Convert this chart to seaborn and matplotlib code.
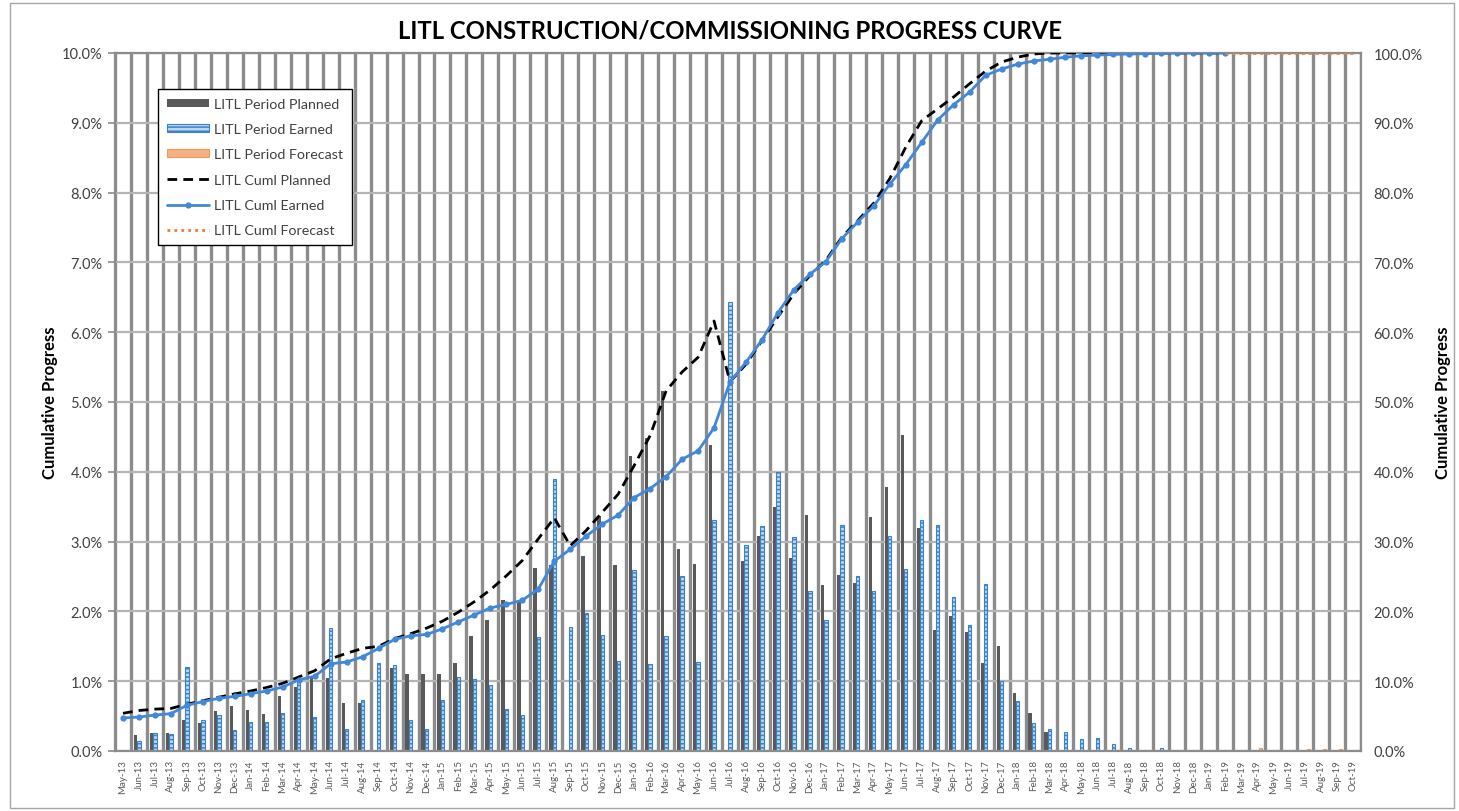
import numpy as np
import pandas as pd
import matplotlib
matplotlib.use("Agg")
import matplotlib.pyplot as plt
import seaborn as sns
from matplotlib.patches import Patch, Rectangle
from matplotlib.lines import Line2D
from matplotlib.ticker import FuncFormatter, MultipleLocator

# ---------------- data ----------------
months = [
    "May-13", "Jun-13", "Jul-13", "Aug-13", "Sep-13", "Oct-13", "Nov-13", "Dec-13",
    "Jan-14", "Feb-14", "Mar-14", "Apr-14", "May-14", "Jun-14", "Jul-14", "Aug-14",
    "Sep-14", "Oct-14", "Nov-14", "Dec-14", "Jan-15", "Feb-15", "Mar-15", "Apr-15",
    "May-15", "Jun-15", "Jul-15", "Aug-15", "Sep-15", "Oct-15", "Nov-15", "Dec-15",
    "Jan-16", "Feb-16", "Mar-16", "Apr-16", "May-16", "Jun-16", "Jul-16", "Aug-16",
    "Sep-16", "Oct-16", "Nov-16", "Dec-16", "Jan-17", "Feb-17", "Mar-17", "Apr-17",
    "May-17", "Jun-17", "Jul-17", "Aug-17", "Sep-17", "Oct-17", "Nov-17", "Dec-17",
    "Jan-18", "Feb-18", "Mar-18", "Apr-18", "May-18", "Jun-18", "Jul-18", "Aug-18",
    "Sep-18", "Oct-18", "Nov-18", "Dec-18", "Jan-19", "Feb-19", "Mar-19", "Apr-19",
    "May-19", "Jun-19", "Jul-19", "Aug-19", "Sep-19", "Oct-19",
]

nan = np.nan
period_planned = [
    nan, 0.23, 0.26, 0.26, 0.45, 0.40, 0.57, 0.65, 0.59, 0.53, 0.79, 0.92, 1.04, 1.04,
    0.69, 0.69, nan, 1.19, 1.10, 1.10, 1.10, 1.26, 1.65, 1.87, 2.17, 2.13, 2.62, 2.66,
    nan, 2.79, 3.37, 2.66, 4.23, 4.49, 5.16, 2.89, 2.68, 4.39, nan, 2.72, 3.08, 3.50,
    2.77, 3.38, 2.38, 2.52, 2.40, 3.35, 3.78, 4.53, 3.19, 1.74, 1.93, 1.70, 1.26, 1.50,
    0.83, 0.55, 0.27, nan, nan, nan, nan, nan, nan, nan, nan, nan, nan, nan, nan, nan,
    nan, nan, nan, nan, nan, nan,
]
period_earned = [
    nan, 0.15, 0.26, 0.24, 1.21, 0.44, 0.52, 0.30, 0.41, 0.41, 0.54, 1.01, 0.48, 1.76,
    0.32, 0.73, 1.26, 1.23, 0.44, 0.32, 0.73, 1.06, 1.03, 0.94, 0.60, 0.51, 1.63, 3.90,
    1.77, 1.97, 1.66, 1.29, 2.59, 1.24, 1.65, 2.51, 1.28, 3.31, 6.43, 2.95, 3.23, 4.00,
    3.07, 2.29, 1.87, 3.24, 2.51, 2.29, 3.08, 2.61, 3.31, 3.24, 2.21, 1.81, 2.39, 1.00,
    0.72, 0.40, 0.31, 0.27, 0.17, 0.18, 0.10, 0.05, 0.01, 0.04, nan, nan, nan, 0.01,
    nan, nan, nan, nan, nan, nan, nan, nan,
]
period_forecast = [nan] * 70 + [0.01, 0.04, 0.02, 0.01, 0.03, 0.03, 0.03, 0.01]

cum_planned = [
    5.4, 5.8, 6.0, 6.1, 6.7, 7.2, 7.7, 8.2, 8.6, 9.1, 9.7, 10.6, 11.5, 13.2, 14.0, 14.7,
    15.0, 16.1, 16.8, 17.6, 18.6, 19.9, 21.4, 23.1, 25.1, 27.3, 30.4, 33.4, 29.4, 31.6,
    34.2, 36.8, 40.9, 45.2, 51.6, 54.3, 56.4, 61.6, 52.9, 55.4, 58.8, 62.2, 65.5, 68.1,
    70.3, 73.6, 76.0, 78.5, 82.0, 86.5, 90.3, 92.0, 93.7, 95.6, 97.4, 98.7, 99.4, 99.85,
    100, 100, 100, 100, 100, 100, 100, 100, 100, 100, 100, 100,
]
cum_earned = [
    4.73, 4.87, 5.15, 5.35, 6.55, 7.07, 7.55, 7.83, 8.21, 8.6, 9.17, 10.2, 10.7, 12.5,
    12.75, 13.5, 14.7, 16.0, 16.5, 16.7, 17.5, 18.5, 19.5, 20.5, 21.0, 21.6, 23.2, 27.2,
    28.9, 30.8, 32.5, 33.8, 36.3, 37.6, 39.3, 41.8, 43.0, 46.3, 52.9, 55.7, 58.9, 62.8,
    66.1, 68.3, 70.1, 73.4, 75.8, 78.1, 81.2, 84.0, 87.2, 90.4, 92.6, 94.4, 96.8, 97.7,
    98.4, 98.85, 99.1, 99.4, 99.6, 99.7, 99.8, 99.85, 99.9, 99.95, 100, 100, 100, 100,
]
cum_forecast_months = months[69:]
cum_forecast = [100, 100, 100, 100, 100, 100, 100, 100, 100]

series_names = ["LITL Period Planned", "LITL Period Earned", "LITL Period Forecast"]
line_names = ["LITL Cuml Planned", "LITL Cuml Earned", "LITL Cuml Forecast"]

# ---------------- style ----------------
sns.set_theme(style="white")
plt.rcParams["font.family"] = ["Lato", "DejaVu Sans"]
plt.rcParams["hatch.linewidth"] = 1.1

c_planned = "#595959"
c_earned_face = "#BDD7EE"
c_earned_edge = "#3A83CC"
c_fore_face = "#F4B183"
c_fore_edge = "#ED9A5C"
c_line_earned = "#4288D8"
c_line_fore = "#ED7D31"
c_vgrid = "#8c8c8c"
c_hgrid = "#b5b5b5"
c_text = "#404040"

fig = plt.figure(figsize=(14.59, 8.12), dpi=100)
ax = fig.add_axes([115 / 1459, 60 / 812, 1246 / 1459, 698 / 812])

# ---------------- bars ----------------
bars_df = pd.DataFrame({
    "month": months * 3,
    "series": [series_names[0]] * len(months) + [series_names[1]] * len(months)
              + [series_names[2]] * len(months),
    "value": period_planned + period_earned + period_forecast,
})
sns.barplot(
    data=bars_df, x="month", y="value", hue="series", order=months,
    hue_order=series_names, palette=[c_planned, c_earned_face, c_fore_face],
    width=0.63, dodge=True, saturation=1, errorbar=None, legend=False, ax=ax,
)
for cont, name in zip(ax.containers, series_names):
    for p in cont:
        if name == series_names[0]:
            p.set_edgecolor("none")
        elif name == series_names[1]:
            p.set_edgecolor(c_earned_edge)
            p.set_hatch("----")
            p.set_linewidth(0.8)
        else:
            p.set_edgecolor(c_fore_edge)
            p.set_linewidth(0.8)
        p.set_zorder(2)

ax.set_xlim(-0.5, len(months) - 0.5)
ax.set_ylim(0, 10)
ax.yaxis.set_major_locator(MultipleLocator(1))
ax.yaxis.set_major_formatter(FuncFormatter(lambda v, _: f"{v:.1f}%"))
ax.set_xticks(np.arange(len(months)))
ax.set_xticklabels(months, rotation=90, fontsize=7, color="#595959")
ax.set_xticks(np.arange(-0.5, len(months), 1), minor=True)
ax.tick_params(axis="x", which="major", length=0, pad=6)
ax.tick_params(axis="x", which="minor", length=5, width=1.2, color=c_vgrid, direction="out")
ax.tick_params(axis="y", which="major", length=5, width=1.2, color=c_vgrid,
               labelsize=10.5, labelcolor=c_text, pad=4)
ax.grid(False)
ax.grid(which="minor", axis="x", color=c_vgrid, lw=2.4)
ax.grid(which="major", axis="y", color=c_hgrid, lw=1.6)
ax.set_axisbelow(True)
for s in ax.spines.values():
    s.set_color(c_vgrid)
    s.set_linewidth(1.6)
ax.set_xlabel("")
ax.set_ylabel("Cumulative Progress", fontsize=12, fontweight="bold", color="black", labelpad=3)

# ---------------- cumulative lines ----------------
ax2 = ax.twinx()
pos = np.arange(len(months))
sns.lineplot(x=pos[:len(cum_planned)], y=cum_planned, ax=ax2, color="black", lw=2,
             linestyle=(0, (3.5, 2.2)), estimator=None, sort=False)
sns.lineplot(x=pos[:len(cum_earned)], y=cum_earned, ax=ax2, color=c_line_earned, lw=2,
             marker="o", markersize=4.5, markeredgewidth=0, estimator=None, sort=False)
sns.lineplot(x=pos[len(months) - len(cum_forecast):], y=cum_forecast, ax=ax2,
             color=c_line_fore, lw=2, linestyle=(0, (1, 1.5)), estimator=None, sort=False)
ax2.set_ylim(0, 100)
ax2.yaxis.set_major_locator(MultipleLocator(10))
ax2.yaxis.set_major_formatter(FuncFormatter(lambda v, _: f"{v:.1f}%"))
ax2.tick_params(axis="y", length=0, labelsize=10.5, labelcolor=c_text, pad=9)
ax2.grid(False)
for s in ax2.spines.values():
    s.set_visible(False)
ax2.set_ylabel("Cumulative Progress", fontsize=12, fontweight="bold", color="black",
               labelpad=9)
ax2.set_xlim(-0.5, len(months) - 0.5)

# ---------------- legend ----------------
handles = [
    Patch(facecolor=c_planned, edgecolor="none"),
    Patch(facecolor=c_earned_face, edgecolor=c_earned_edge, hatch="----", lw=0.8),
    Patch(facecolor=c_fore_face, edgecolor=c_fore_edge, lw=0.8),
    Line2D([], [], color="black", lw=2, linestyle=(0, (3.5, 2.2))),
    Line2D([], [], color=c_line_earned, lw=2, marker="o", markersize=4.5, markeredgewidth=0),
    Line2D([], [], color=c_line_fore, lw=2, linestyle=(0, (1, 1.5))),
]
leg = ax2.legend(
    handles, series_names + line_names, loc="upper left",
    bbox_to_anchor=(0.0345, 0.948), frameon=True, fancybox=False, framealpha=1,
    edgecolor="black", fontsize=10.3, handlelength=3.0, handleheight=0.5,
    labelspacing=0.93, borderpad=0.6, handletextpad=0.35, borderaxespad=0,
)
leg.get_frame().set_linewidth(1.0)
for t in leg.get_texts():
    t.set_color(c_text)

# ---------------- title & border ----------------
fig.text(0.5, 1 - 31 / 812, "LITL CONSTRUCTION/COMMISSIONING PROGRESS CURVE",
         ha="center", va="center", fontsize=17.2, fontweight="bold", color="black")
fig.add_artist(Rectangle((10 / 1459, 3 / 812), 1444 / 1459, 805 / 812,
                         transform=fig.transFigure, fill=False, ec="#a6a6a6", lw=1))

fig.savefig("out.png", dpi=100)
